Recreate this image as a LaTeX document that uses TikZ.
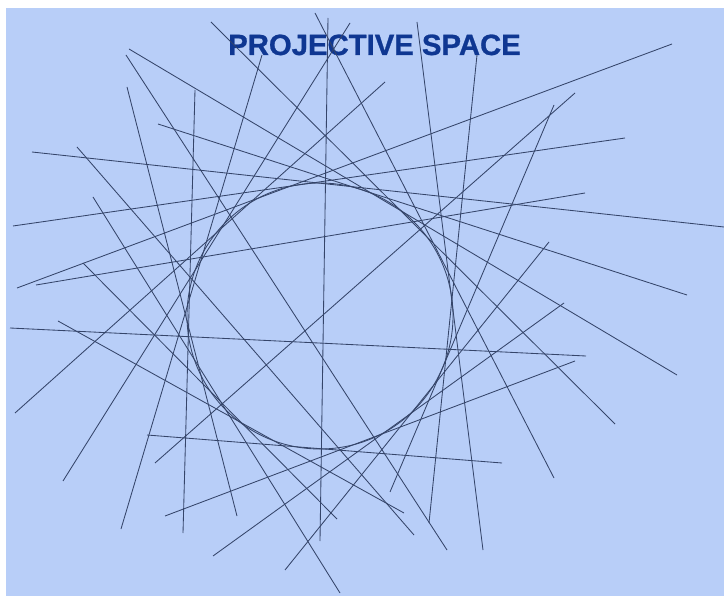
\documentclass[tikz,border=0pt]{standalone}
\usepackage{fontspec}
\setmainfont{Liberation Sans}
\newfontfamily\titlefont[FakeBold=0.9]{Liberation Sans Bold}
\definecolor{skyback}{RGB}{184,206,248}
\definecolor{chordink}{HTML}{35456A}
\definecolor{titleblue}{HTML}{0F3792}
\tikzset{
  ps chord/.style={draw=chordink, line width=0.85pt},
  ps title/.style={font=\fontsize{29.3}{30}\titlefont, text=titleblue, inner sep=0pt, anchor=base},
}

\begin{document}
\begin{tikzpicture}[x=1pt, y=-1pt]
  \useasboundingbox (0,0) rectangle (724,596);
  \fill[skyback] (6,8) rectangle (724,596);
  % title
  \node[ps title] (title) at (374.5,55) {PROJECTIVE SPACE};
  % the conic
  \draw[ps chord] (320,316) circle[radius=133];
  % the lines, end to end
  \foreach \ax/\ay/\bx/\by in {158/124/687/295, 129/49/677/375, 211/22/615/424, 315/13/554/478,
      32/152/724/227, 13/226/625/138, 17/288/672/44, 36/285/585/193, 155/463/575/93,
      390/492/554/105, 285/570/549/242, 213/556/564/303, 10/328/586/356, 165/516/575/361,
      147/435/502/463, 58/321/404/513, 127/87/237/516, 126/55/447/550, 477/55/429/523,
      417/22/483/550, 77/147/414/535, 195/90/183/533, 15/413/385/82, 63/481/350/23,
      121/529/262/55, 93/197/340/593, 83/263/337/519, 328/18/320/541}
    \draw[ps chord] (\ax,\ay) -- (\bx,\by);
\end{tikzpicture}
\end{document}
